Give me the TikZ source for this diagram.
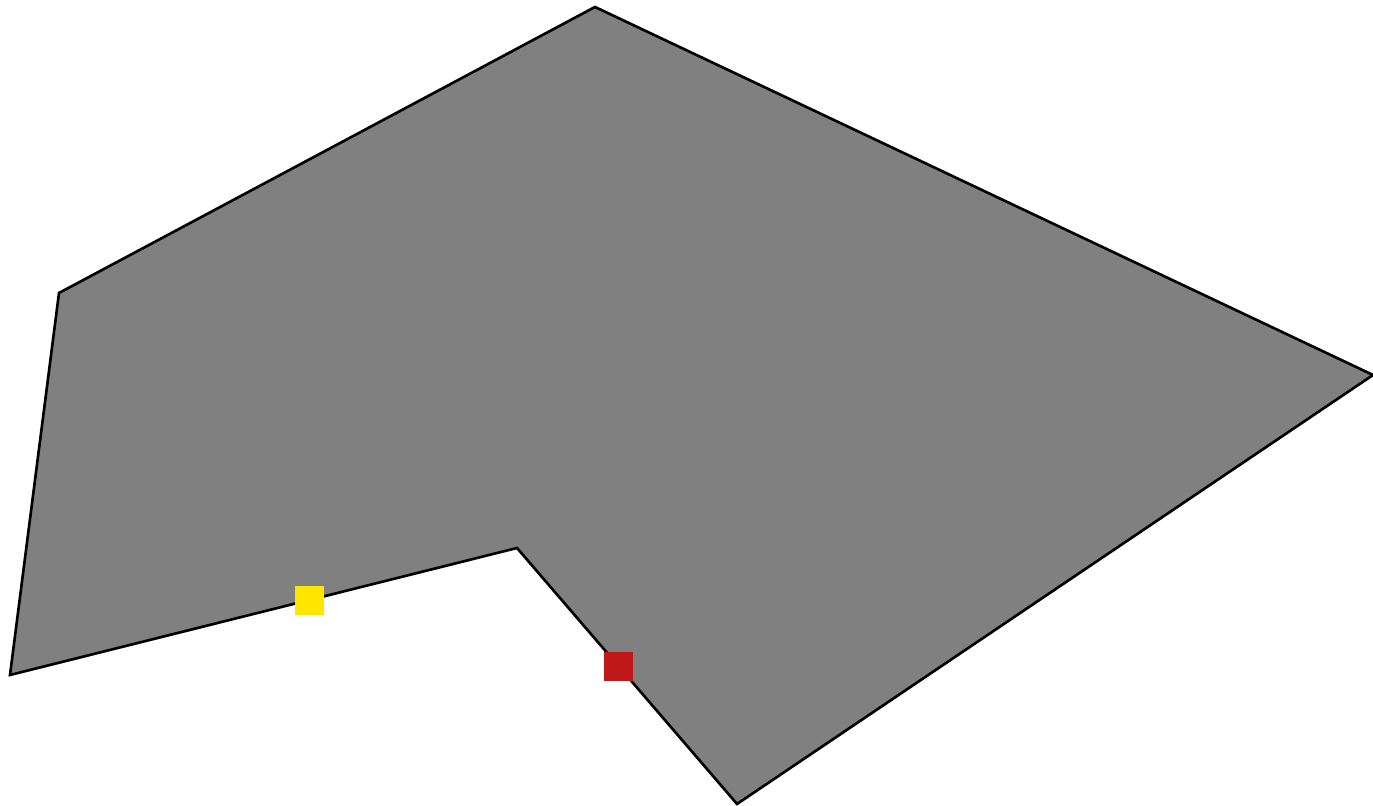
\documentclass[tikz,border=0pt]{standalone}
\usepackage{xcolor}
\usepackage{tikz}
\usetikzlibrary{positioning}
\definecolor{markyellow}{RGB}{255,230,0}
\definecolor{markred}{RGB}{190,24,24}
\begin{document}
\begin{tikzpicture}[region/.style={draw=black, fill=black!50, line width=1.5pt, line join=miter}, marker/.style={inner sep=0pt, minimum size=5.8mm, draw=none}]
\useasboundingbox (0,0) rectangle (27.46,16.12);
\coordinate (top) at (11.90,15.98);
\coordinate (east) at (27.46,8.62);
\coordinate (south) at (14.74,0.04);
\coordinate (notch) at (10.34,5.16);
\coordinate (sw) at (0.20,2.62);
\coordinate (nw) at (1.18,10.26);
\draw[region] (top)--(east)--(south)--(notch)--(sw)--(nw)--cycle;
\node[marker, fill=markyellow] (yel) at (6.19,4.11) {};
\node[marker, fill=markred] (red) at (12.37,2.79) {};
\end{tikzpicture}
\end{document}
